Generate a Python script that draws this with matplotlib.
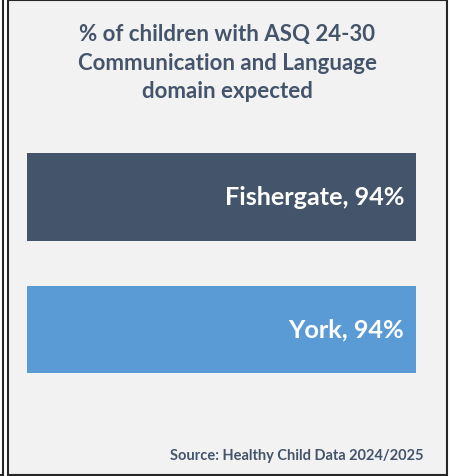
import matplotlib
matplotlib.use("Agg")
import matplotlib.pyplot as plt
from matplotlib.patches import Rectangle
from matplotlib.lines import Line2D

categories = ["Fishergate", "York"]
values = [94, 94]
colors = ["#44546a", "#5b9bd5"]
title = "% of children with ASQ 24-30\nCommunication and Language\ndomain expected"
source = "Source: Healthy Child Data 2024/2025"

W, H = 450, 477
fig = plt.figure(figsize=(W / 100, H / 100), dpi=100, facecolor="white")

def fx(px):
    return px / W

def fy(py):
    return 1 - py / H

# panel background and frame
fig.patches.append(Rectangle((fx(7.5), fy(475.5)), fx(446.5) - fx(7.5), fy(0.5) - fy(475.5),
                             transform=fig.transFigure, facecolor="#f2f2f2",
                             edgecolor="#262626", linewidth=1.5, zorder=-1))
# partial frame at left edge
fig.lines.append(Line2D([fx(2.5), fx(2.5)], [fy(0), fy(475.5)], transform=fig.transFigure,
                        color="#262626", linewidth=1.5, zorder=-1))
fig.lines.append(Line2D([fx(0), fx(2.5)], [fy(475.5), fy(475.5)], transform=fig.transFigure,
                        color="#262626", linewidth=1.5, zorder=-1))

font = "Lato"
fig.text(fx(227), fy(63), title, ha="center", va="center", fontsize=16,
         fontweight="bold", color="#44546a", family=font, linespacing=1.42, zorder=2)

ax = fig.add_axes([fx(27), fy(374), fx(441) - fx(27), fy(154) - fy(374)])
ax.set_zorder(1)
ax.set_facecolor("none")
ypos = list(range(len(categories)))
bh = 87.5 / 132.5
ax.barh(ypos, values, height=bh, color=colors)
ax.set_xlim(0, 100)
ax.set_ylim(len(categories) - 1 + bh / 2, -bh / 2)
ax.axis("off")
for y, c, v in zip(ypos, categories, values):
    ax.annotate(f"{c}, {v}%", xy=(v, y), xytext=(-12, 0), textcoords="offset pixels",
                ha="right", va="center", color="white", fontsize=18.2,
                fontweight="bold", family=font)

fig.text(fx(424), fy(456), source, ha="right", va="center", fontsize=10.5,
         fontweight="bold", color="#44546a", family=font, zorder=2)

fig.savefig("out.png", dpi=100, facecolor="white")
